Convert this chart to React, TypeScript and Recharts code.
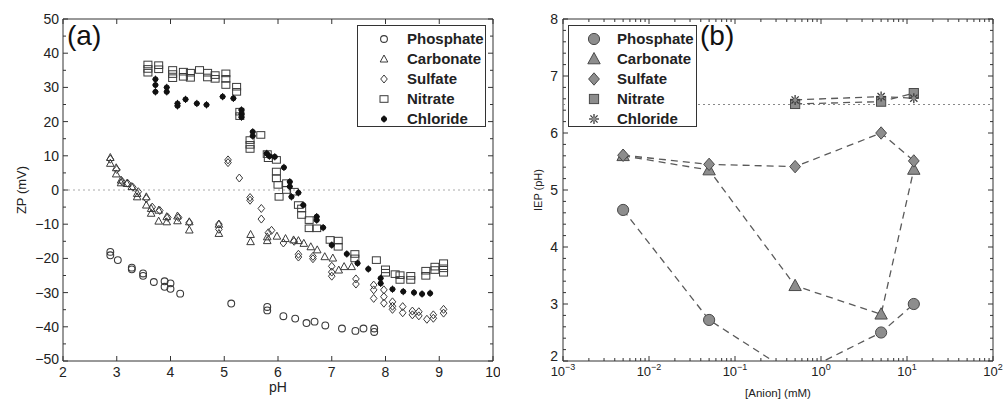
import React from "react";
import { ScatterChart, Scatter, XAxis, YAxis, ReferenceLine, ReferenceArea, Legend } from "recharts";

const seriesNames = ["Phosphate", "Carbonate", "Sulfate", "Nitrate", "Chloride"];

// (a) zeta potential vs pH
const phosphatePH = [2.88, 2.88, 3.02, 3.28, 3.28, 3.49, 3.49, 3.69, 3.89, 3.89, 4.0, 4.0, 4.18, 5.13, 5.8, 5.8, 6.1, 6.32, 6.53, 6.68, 6.88, 7.19, 7.44, 7.59, 7.79, 7.79];
const phosphateZP = [-18.1, -19.1, -20.5, -22.7, -23.2, -24.4, -25.1, -26.9, -26.7, -28.3, -27.3, -28.9, -30.3, -33.2, -34.2, -35.2, -36.9, -37.6, -38.9, -38.5, -39.6, -40.5, -41.2, -40.5, -40.5, -41.5];

const carbonatePH = [2.88, 2.88, 2.99, 2.99, 3.08, 3.08, 3.19, 3.28, 3.38, 3.38, 3.55, 3.55, 3.64, 3.64, 3.78, 3.78, 3.93, 3.93, 4.13, 4.13, 4.35, 4.35, 4.9, 4.9, 5.49, 5.49, 5.8, 5.8, 5.98, 6.14, 6.29, 6.38, 6.48, 6.61, 6.73, 6.87, 7.02, 7.13, 7.23, 7.37];
const carbonateZP = [9.5, 7.8, 6.5, 4.7, 2.9, 2.1, 1.9, 1.0, -1.0, -2.0, -2.0, -4.4, -5.4, -6.8, -5.9, -9.1, -7.8, -9.3, -7.6, -9.0, -9.3, -11.7, -10.0, -12.7, -13.0, -15.1, -13.7, -14.8, -13.5, -14.2, -14.6, -14.8, -15.6, -16.6, -17.5, -19.5, -19.9, -23.4, -22.4, -22.4];

const sulfatePH = [2.88, 3.0, 3.1, 3.2, 3.3, 3.4, 3.55, 3.66, 3.8, 3.95, 4.15, 4.35, 4.9, 4.9, 5.07, 5.07, 5.28, 5.48, 5.48, 5.69, 5.69, 5.82, 5.88, 6.1, 6.3, 6.38, 6.38, 6.65, 6.65, 7.0, 7.0, 7.0, 7.45, 7.45, 7.78, 7.78, 7.78, 7.97, 7.97, 7.97, 8.13, 8.13, 8.13, 8.32, 8.32, 8.5, 8.5, 8.62, 8.62, 8.77, 8.89, 8.89, 9.08, 9.08];
const sulfateZP = [9.0, 6.0, 2.5, 2.0, 0.8, -0.5, -2.5, -5.0, -6.0, -8.0, -8.0, -9.5, -10.0, -11.5, 8.8, 8.0, 3.5, -2.2, -3.0, -5.4, -8.5, -12.5, -11.8, -15.5, -15.0, -18.8, -19.6, -19.4, -20.1, -22.3, -24.0, -25.2, -26.0, -27.5, -27.8, -29.2, -31.7, -29.2, -31.2, -33.1, -32.7, -34.0, -34.9, -34.1, -35.9, -35.4, -36.5, -35.6, -36.8, -37.8, -36.5, -37.5, -34.9, -36.0];

const nitratePH = [3.58, 3.58, 3.58, 3.78, 3.78, 4.04, 4.04, 4.04, 4.24, 4.24, 4.37, 4.37, 4.54, 4.69, 4.69, 4.83, 4.83, 5.03, 5.03, 5.03, 5.23, 5.23, 5.29, 5.29, 5.48, 5.48, 5.48, 5.68, 5.8, 5.82, 5.97, 5.97, 5.97, 6.0, 6.02, 6.16, 6.16, 6.3, 6.38, 6.44, 6.44, 6.58, 6.58, 6.72, 6.97, 7.12, 7.12, 7.43, 7.43, 7.83, 8.0, 8.0, 8.18, 8.27, 8.27, 8.47, 8.47, 8.75, 8.75, 8.92, 8.92, 9.08, 9.08, 9.08];
const nitrateZP = [36.7, 35.4, 34.3, 36.5, 35.3, 35.1, 33.9, 32.7, 34.6, 33.1, 34.3, 32.8, 35.1, 34.3, 32.9, 33.6, 32.5, 34.1, 32.5, 30.7, 30.2, 28.7, 22.9, 21.6, 14.6, 13.2, 12.0, 16.1, 10.5, 9.3, 8.8, 5.4, 3.4, 1.5, -2.0, 2.0, 0.0, -0.5, -4.4, -5.4, -7.3, -8.8, -11.2, -11.2, -14.6, -14.8, -16.6, -18.7, -20.0, -20.5, -23.2, -24.2, -24.6, -24.9, -26.3, -25.1, -26.3, -23.6, -25.1, -22.4, -23.4, -21.4, -22.9, -24.2];

const chloridePH = [3.72, 3.72, 3.72, 3.93, 3.93, 4.13, 4.13, 4.28, 4.49, 4.67, 4.97, 5.17, 5.32, 5.32, 5.32, 5.53, 5.53, 5.79, 5.84, 5.94, 6.11, 6.22, 6.22, 6.25, 6.38, 6.47, 6.72, 6.72, 6.84, 7.0, 7.28, 7.48, 7.68, 7.91, 7.91, 8.13, 8.33, 8.53, 8.68, 8.83];
const chlorideZP = [32.4, 30.7, 28.7, 30.0, 28.7, 25.3, 24.6, 26.5, 25.3, 24.9, 27.3, 26.8, 23.4, 22.2, 21.3, 17.0, 15.8, 10.7, 9.9, 9.7, 6.6, 2.4, 1.0, -2.0, -0.8, -4.4, -7.8, -8.8, -11.0, -16.1, -18.7, -21.4, -23.1, -25.8, -27.3, -29.0, -29.7, -30.0, -30.4, -30.2];

// (b) IEP vs anion concentration
const anionConc = [0.005, 0.05, 0.5, 5, 12];
const iepPhosphate = [4.65, 2.72, 1.75, 2.5, 3.0];
const iepCarbonate = [5.6, 5.35, 3.32, 2.82, 5.36];
const iepSulfate = [5.61, 5.45, 5.41, 6.0, 5.51];
const monoConc = [0.5, 5, 12];
const iepNitrate = [6.51, 6.55, 6.7];
const iepChloride = [6.58, 6.64, 6.61];

const phTicks = [2, 3, 4, 5, 6, 7, 8, 9, 10];
const zpTicks = [-50, -40, -30, -20, -10, 0, 10, 20, 30, 40, 50];
const zpMinorTicks = [-45, -35, -25, -15, -5, 5, 15, 25, 35, 45];
const iepTicks = [2, 3, 4, 5, 6, 7, 8];
const concTicks = [0.001, 0.01, 0.1, 1, 10, 100];

const iepMinorTicks = iepTicks.slice(0, -1).flatMap((t) => [0.2, 0.4, 0.6, 0.8].map((f) => +(t + f).toFixed(1)));
const concMinorTicks = concTicks.slice(0, -1).flatMap((d) => [2, 3, 4, 5, 6, 7, 8, 9].map((m) => +(m * d).toPrecision(3)));

const zip = (xs: number[], ys: number[]) => xs.map((x, i) => ({ x, y: ys[i] }));

const PW = 430;
const PH = 342;
const AX = "#333";
const FONT = "'Liberation Sans', Arial, sans-serif";
const minus = (v: number) => (v < 0 ? "\u2212" + Math.abs(v) : String(v));

function MarkA({ cx, cy, kind }: any) {
  const s = "#3a3a3a";
  if (kind === "Phosphate") return <circle cx={cx} cy={cy} r={3.4} fill="none" stroke={s} strokeWidth={1.1} />;
  if (kind === "Carbonate")
    return <polygon points={`${cx},${cy - 4} ${cx - 3.8},${cy + 3} ${cx + 3.8},${cy + 3}`} fill="none" stroke={s} strokeWidth={1} />;
  if (kind === "Sulfate")
    return <polygon points={`${cx},${cy - 4} ${cx + 3.3},${cy} ${cx},${cy + 4} ${cx - 3.3},${cy}`} fill="none" stroke={s} strokeWidth={1} />;
  if (kind === "Nitrate") return <rect x={cx - 4} y={cy - 3.3} width={8} height={6.6} fill="none" stroke={s} strokeWidth={1} />;
  return (
    <g stroke="#111" strokeWidth={1}>
      <circle cx={cx} cy={cy} r={2.5} fill="#111" />
      <line x1={cx} x2={cx} y1={cy - 3.6} y2={cy + 3.6} />
      <line x1={cx - 3} x2={cx + 3} y1={cy} y2={cy} />
    </g>
  );
}

function MarkB({ cx, cy, kind }: any) {
  const f = "#8d8d8d";
  const s = "#4a4a4a";
  if (kind === "Phosphate") return <circle cx={cx} cy={cy} r={5.6} fill={f} stroke={s} strokeWidth={1} />;
  if (kind === "Carbonate")
    return <polygon points={`${cx},${cy - 6.5} ${cx - 6.2},${cy + 4.8} ${cx + 6.2},${cy + 4.8}`} fill={f} stroke={s} strokeWidth={1} />;
  if (kind === "Sulfate")
    return <polygon points={`${cx},${cy - 6.2} ${cx + 5.4},${cy} ${cx},${cy + 6.2} ${cx - 5.4},${cy}`} fill={f} stroke={s} strokeWidth={1} />;
  if (kind === "Nitrate") return <rect x={cx - 4.6} y={cy - 4.6} width={9.2} height={9.2} fill={f} stroke={s} strokeWidth={1} />;
  return (
    <g stroke="#3a3a3a" strokeWidth={1.3}>
      <line x1={cx} x2={cx} y1={cy - 5} y2={cy + 5} />
      <line x1={cx - 5} x2={cx + 5} y1={cy} y2={cy} />
      <line x1={cx - 3.6} x2={cx + 3.6} y1={cy - 3.6} y2={cy + 3.6} />
      <line x1={cx - 3.6} x2={cx + 3.6} y1={cy + 3.6} y2={cy - 3.6} />
      <circle cx={cx} cy={cy} r={2} fill={f} stroke="none" />
    </g>
  );
}

const XTickA = ({ x, y, payload }: any) => (
  <g>
    <line x1={x} x2={x} y1={y} y2={y - 5} stroke={AX} />
    <line x1={x} x2={x} y1={y - PH} y2={y - PH + 5} stroke={AX} />
    <text x={x} y={y + 16} textAnchor="middle" fontSize={14} fontFamily={FONT} fill="#222">{payload.value}</text>
  </g>
);

const YTickA = ({ x, y, payload }: any) => {
  const v = payload.value;
  const major = zpTicks.includes(v);
  const len = major ? 5 : 3;
  return (
    <g>
      <line x1={x} x2={x + len} y1={y} y2={y} stroke={AX} />
      <line x1={x + PW} x2={x + PW - len} y1={y} y2={y} stroke={AX} />
      {major && (
        <text x={x - 4} y={v === -50 ? y - 2 : y} dy="0.35em" textAnchor="end" fontSize={14} fontFamily={FONT} fill="#222">{minus(v)}</text>
      )}
    </g>
  );
};

const XTickB = ({ x, y, payload }: any) => {
  const v = payload.value;
  const e = Math.round(Math.log10(v));
  const major = Math.abs(Math.log10(v) - e) < 1e-6;
  const len = major ? 5 : 3;
  return (
    <g>
      <line x1={x} x2={x} y1={y} y2={y - len} stroke={AX} />
      <line x1={x} x2={x} y1={y - PH} y2={y - PH + len} stroke={AX} />
      {major && (
        <text x={x} y={y + 15} textAnchor="middle" fontSize={13} fontFamily={FONT} fill="#222">
          <tspan>10</tspan>
          <tspan dy={-6} fontSize={9}>{minus(e)}</tspan>
        </text>
      )}
    </g>
  );
};

const YTickB = ({ x, y, payload }: any) => {
  const v = payload.value;
  const major = iepTicks.includes(v);
  const len = major ? 5 : 3;
  return (
    <g>
      <line x1={x} x2={x + len} y1={y} y2={y} stroke={AX} />
      <line x1={x + PW} x2={x + PW - len} y1={y} y2={y} stroke={AX} />
      {major && (
        <text x={x - 5} y={v === 2 ? y - 5 : y} dy="0.35em" textAnchor="end" fontSize={14} fontFamily={FONT} fill="#222">{v}</text>
      )}
    </g>
  );
};

const YLabel = ({ text, dx, size }: any) => ({ viewBox }: any) => {
  const cx = viewBox.x + dx;
  const cy = viewBox.y + viewBox.height / 2;
  return (
    <text x={cx} y={cy} transform={`rotate(-90 ${cx} ${cy})`} textAnchor="middle" dy="0.35em" fontSize={size} fontFamily={FONT} fill="#222">{text}</text>
  );
};

const XLabel = ({ text, dy, size }: any) => ({ viewBox }: any) => (
  <text x={viewBox.x + viewBox.width / 2} y={viewBox.y + dy} textAnchor="middle" fontSize={size} fontFamily={FONT} fill="#222">{text}</text>
);

const legendBox = (Mark: any, markX: number, textX: number) => () => (
  <div style={{ position: "relative", width: 129, height: 102, border: "1px solid #333", background: "#fff", boxSizing: "border-box" }}>
    {seriesNames.map((n, i) => (
      <div key={n} style={{ position: "absolute", left: 0, top: 3 + i * 20, height: 20, width: "100%" }}>
        <svg width={20} height={20} style={{ position: "absolute", left: markX - 10, top: 0 }}>
          <Mark cx={10} cy={10} kind={n} />
        </svg>
        <span style={{ position: "absolute", left: textX, top: 1, fontFamily: FONT, fontWeight: "bold", fontSize: 15, color: "#222", lineHeight: "18px" }}>{n}</span>
      </div>
    ))}
  </div>
);

const aSeries = [
  { name: "Phosphate", data: zip(phosphatePH, phosphateZP) },
  { name: "Carbonate", data: zip(carbonatePH, carbonateZP) },
  { name: "Sulfate", data: zip(sulfatePH, sulfateZP) },
  { name: "Nitrate", data: zip(nitratePH, nitrateZP) },
  { name: "Chloride", data: zip(chloridePH, chlorideZP) },
];

const bSeries = [
  { name: "Phosphate", data: zip(anionConc, iepPhosphate) },
  { name: "Carbonate", data: zip(anionConc, iepCarbonate) },
  { name: "Sulfate", data: zip(anionConc, iepSulfate) },
  { name: "Nitrate", data: zip(monoConc, iepNitrate) },
  { name: "Chloride", data: zip(monoConc, iepChloride) },
];

export default function App() {
  return (
    <div style={{ position: "absolute", left: 0, top: 0, width: 1004, height: 403, background: "#fff", fontFamily: FONT }}>
      <div style={{ position: "absolute", left: 0, top: 0 }}>
        <ScatterChart width={500} height={403} margin={{ top: 19, right: 7, left: 18, bottom: 0 }}>
          <XAxis type="number" dataKey="x" domain={[2, 10]} ticks={phTicks} interval={0} height={42}
            tickLine={false} axisLine={false} tickSize={0} tickMargin={0} tick={XTickA}
            label={{ content: XLabel({ text: "pH", dy: 31, size: 14 }) } as any} />
          <YAxis type="number" dataKey="y" domain={[-50, 50]} ticks={[...zpTicks, ...zpMinorTicks]} interval={0} width={45}
            tickLine={false} axisLine={false} tickSize={0} tickMargin={0} tick={YTickA}
            label={{ content: YLabel({ text: "ZP (mV)", dx: 3, size: 13 }) } as any} />
          <ReferenceLine y={0} stroke="#aaa" strokeDasharray="2 3" />
          <ReferenceArea x1={2} x2={10} y1={-50} y2={50} fill="none" stroke={AX} strokeWidth={1} />
          {aSeries.map((s) => (
            <Scatter key={s.name} name={s.name} data={s.data} isAnimationActive={false}
              shape={(p: any) => <MarkA cx={p.cx} cy={p.cy} kind={s.name} />} />
          ))}
          <Legend layout="vertical" align="center" verticalAlign="middle" content={legendBox(MarkA, 26, 49)}
            wrapperStyle={{ left: 357, top: 25, width: 130, height: 103 }} />
        </ScatterChart>
        <div style={{ position: "absolute", left: 67, top: 20, fontSize: 28, fontFamily: FONT, color: "#111" }}>(a)</div>
      </div>

      <div style={{ position: "absolute", left: 500, top: 0 }}>
        <ScatterChart width={504} height={403} margin={{ top: 19, right: 11, left: 18, bottom: 0 }}>
          <XAxis type="number" dataKey="x" scale="log" domain={[0.001, 100]} allowDataOverflow
            ticks={[...concTicks, ...concMinorTicks]} interval={0} height={42}
            tickLine={false} axisLine={false} tickSize={0} tickMargin={0} tick={XTickB}
            label={{ content: XLabel({ text: "[Anion] (mM)", dy: 36, size: 11.5 }) } as any} />
          <YAxis type="number" dataKey="y" domain={[2, 8]} allowDataOverflow ticks={[...iepTicks, ...iepMinorTicks]} interval={0} width={45}
            tickLine={false} axisLine={false} tickSize={0} tickMargin={0} tick={YTickB}
            label={{ content: YLabel({ text: "IEP (pH)", dx: 20, size: 11 }) } as any} />
          <ReferenceLine y={6.5} stroke="#888" strokeDasharray="2 3" />
          <ReferenceArea x1={0.001} x2={100} y1={2} y2={8} fill="none" stroke={AX} strokeWidth={1} />
          {bSeries.map((s) => (
            <Scatter key={s.name} name={s.name} data={s.data} isAnimationActive={false} lineType="joint"
              line={{ stroke: "#5a5a5a", strokeWidth: 1.3, strokeDasharray: "7 5" } as any}
              shape={(p: any) => <MarkB cx={p.cx} cy={p.cy} kind={s.name} />} />
          ))}
          <Legend layout="vertical" align="center" verticalAlign="middle" content={legendBox(MarkB, 25, 48)}
            wrapperStyle={{ left: 68, top: 25, width: 130, height: 103 }} />
        </ScatterChart>
        <div style={{ position: "absolute", left: 200, top: 20, fontSize: 28, fontFamily: FONT, color: "#111" }}>(b)</div>
      </div>
    </div>
  );
}
